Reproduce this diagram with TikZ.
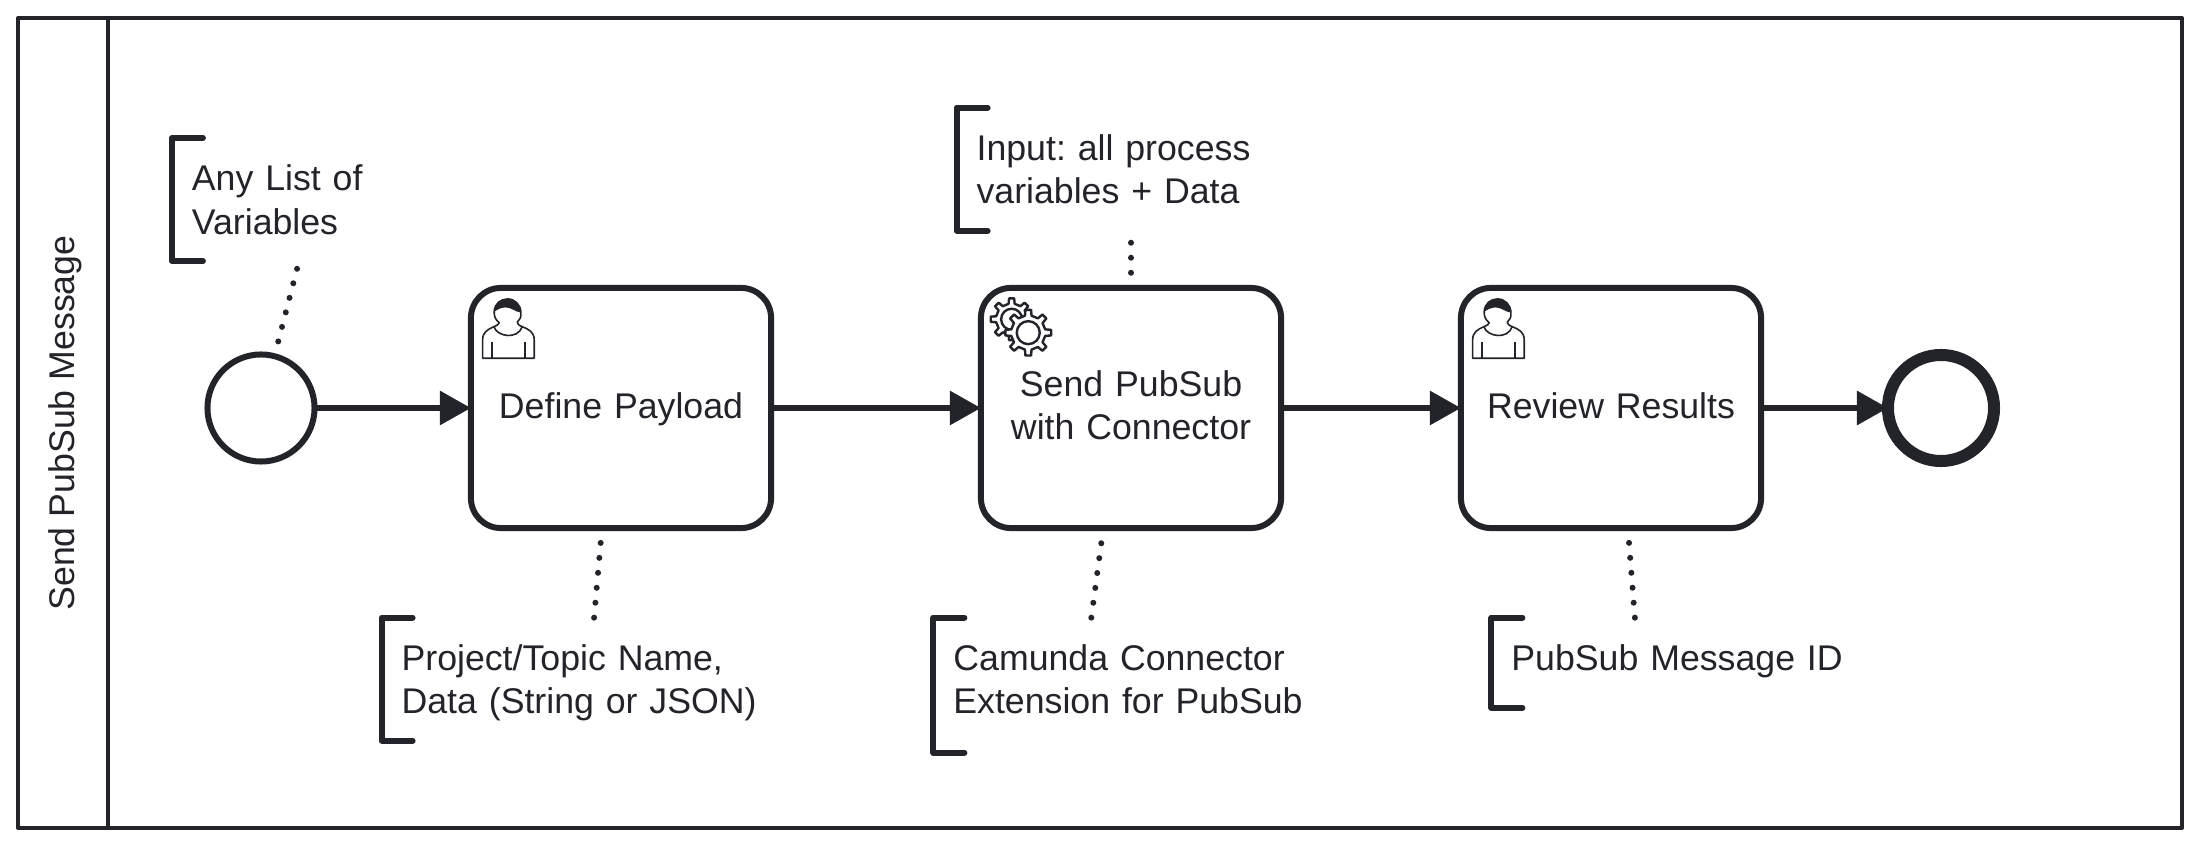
\documentclass[tikz,border=0pt]{standalone}
\usepackage{fontspec}
\setmainfont{Liberation Sans}
\usepackage{tikz}
\usetikzlibrary{arrows.meta}
\definecolor{ink}{HTML}{22242A}

\tikzset{
  usericon/.pic={
    % Head and shoulders
    \draw[ink, line width=.016cm, line join=round, fill=white]
      (50,24.7) .. controls (50.5,29) and (49,32) .. (46.3,34.3)
      .. controls (46.5,36) and (48,37.5) .. (51.3,38.7)
      .. controls (58,41.5) and (63.3,44) .. (63.3,52) -- (63.3,70.3) -- (11.7,70.3) -- (11.7,52)
      .. controls (11.7,44) and (17,41.5) .. (23,38.7)
      .. controls (26.5,37.5) and (28,36) .. (28.3,34.7)
      .. controls (24.5,32) and (23,28) .. (23.3,23.7)
      .. controls (23.5,16) and (29.5,11) .. (36.7,11)
      .. controls (44,11) and (50,17) .. (50,24.7);
    % Hair
    \fill[ink] (23.3,23.7) .. controls (23.5,16) and (29.5,11) .. (36.7,11)
      .. controls (44,11) and (50,17) .. (50,24.7)
      .. controls (44,24) and (40,19) .. (34,19.5) .. controls (29,20) and (26,22) .. (23.3,23.7);
    % Collar and arms
    \draw[ink, line width=.016cm] (23,38.7) .. controls (26,49) and (47,52) .. (51.3,38.7);
    \draw[ink, line width=.016cm] (21.3,53.7) -- (21.3,70.3);
    \draw[ink, line width=.016cm] (54,53.7) -- (54,70.3);
  },
  cogwheel/.pic={
    \draw[ink, line width=.024cm, line join=round, fill=white]
      (-11:#1*.75) \foreach \a in {0,45,...,315}{
        -- (\a-11:#1*.75) -- (\a-7:#1) -- (\a+7:#1) -- (\a+11:#1*.75)
      } -- cycle;
    \draw[ink, line width=.024cm] (0,0) circle (#1*.5);
  },
}

\begin{document}
\begin{tikzpicture}
        [%%%%%%%%%%%%%%%%%%%%%%%%%%%%%%
        x=.01cm, y=-.01cm,
        every node/.style={font=\fontsize{10.15}{12.3}\selectfont\frenchspacing, text=ink},
        pool/.style={draw=ink, line width=.04cm, line join=round},
        task/.style={draw=ink, line width=.06cm, rounded corners=.3cm, align=center,
          text width=3cm, text height=1.305cm, text depth=1.095cm, outer sep=0pt, inner sep=0pt},
        twolines/.style={text height=1.087cm, text depth=1.313cm},
        startevt/.style={circle, draw=ink, line width=.06cm, minimum size=1.07cm, inner sep=0pt, outer sep=0pt},
        endevt/.style={circle, draw=ink, line width=.12cm, minimum size=1.06cm, inner sep=0pt, outer sep=0pt},
        flow/.style={draw=ink, line width=.06cm, -{Triangle[length=.31cm,width=.33cm]}},
        note/.style={align=left, inner xsep=.2cm, inner ysep=0pt, outer sep=0pt, text height=.53cm},
        bracket/.style={draw=ink, line width=.06cm, line cap=round, line join=round},
        assoc/.style={draw=ink, line width=.06cm, line cap=round, dash pattern=on 0pt off .15cm},
        ]%%%%%%%%%%%%%%%%%%%%%%%%%%%%%%
        \useasboundingbox (0,0) rectangle (2199,846);
        % Pool and lane header
        \draw[pool] (18,18) rectangle (2182,828);
        \draw[pool] (108,18) -- (108,828);
        \node[rotate=90] (laneTitle) at (65,423) {Send PubSub Message};
        % Process
        \node[startevt] (startEvent) at (261,408) {};
        \node[task] (boxA) at (621,408) {Define Payload};
        \node[task, twolines] (boxB) at (1131,408) {Send PubSub\\with Connector};
        \node[task] (boxC) at (1611,408) {Review Results};
        \node[endevt] (endEvent) at (1941,408) {};
        \foreach \a/\b in {startEvent/boxA,boxA/boxB,boxB/boxC,boxC/endEvent}{
          \draw[flow] (\a) -- (\b);
        }
        % Task icons
        \pic at (boxA.north west) {usericon};
        \pic at (boxC.north west) {usericon};
        \pic at ([xshift=.307cm,yshift=-.313cm]boxB.north west) {cogwheel=21};
        \pic at ([xshift=.473cm,yshift=-.447cm]boxB.north west) {cogwheel=23};
        % Annotations
        \node[note, text width=2.46cm, text depth=.70cm] (noteA) at (315,199.5) {Any List of\\Variables};
        \node[note, text width=3.086cm, text depth=.70cm] (noteB) at (1131,169.2) {Input: all process\\variables + Data};
        \node[note, text width=3.74cm, text depth=.70cm] (noteC) at (588.7,679.2) {Project/Topic Name,\\Data (String or JSON)};
        \node[note, text width=3.60cm, text depth=.82cm] (noteD) at (1133.5,685.2) {Camunda Connector\\Extension for PubSub};
        \node[note, text width=3.40cm, text depth=.37cm] (noteE) at (1681.5,662.7) {PubSub Message ID};
        \foreach \n in {noteA,noteB,noteC,noteD,noteE}{
          \draw[bracket] ([xshift=.31cm]\n.north west) -- (\n.north west) -- (\n.south west) -- ([xshift=.31cm]\n.south west);
        }
        % Associations
        \draw[assoc, shorten <=.08cm, shorten >=.08cm] (noteA) -- (startEvent);
        \draw[assoc, shorten <=.12cm, shorten >=.12cm] (noteB) -- (boxB);
        \draw[assoc, shorten >=.12cm] (noteC.85) -- (boxA.-99.8);
        \draw[assoc, shorten >=.12cm] (noteD.122) -- (boxB.-103);
        \draw[assoc, shorten >=.12cm] (noteE.136.7) -- (boxC.-82.4);
      \end{tikzpicture}
\end{document}
